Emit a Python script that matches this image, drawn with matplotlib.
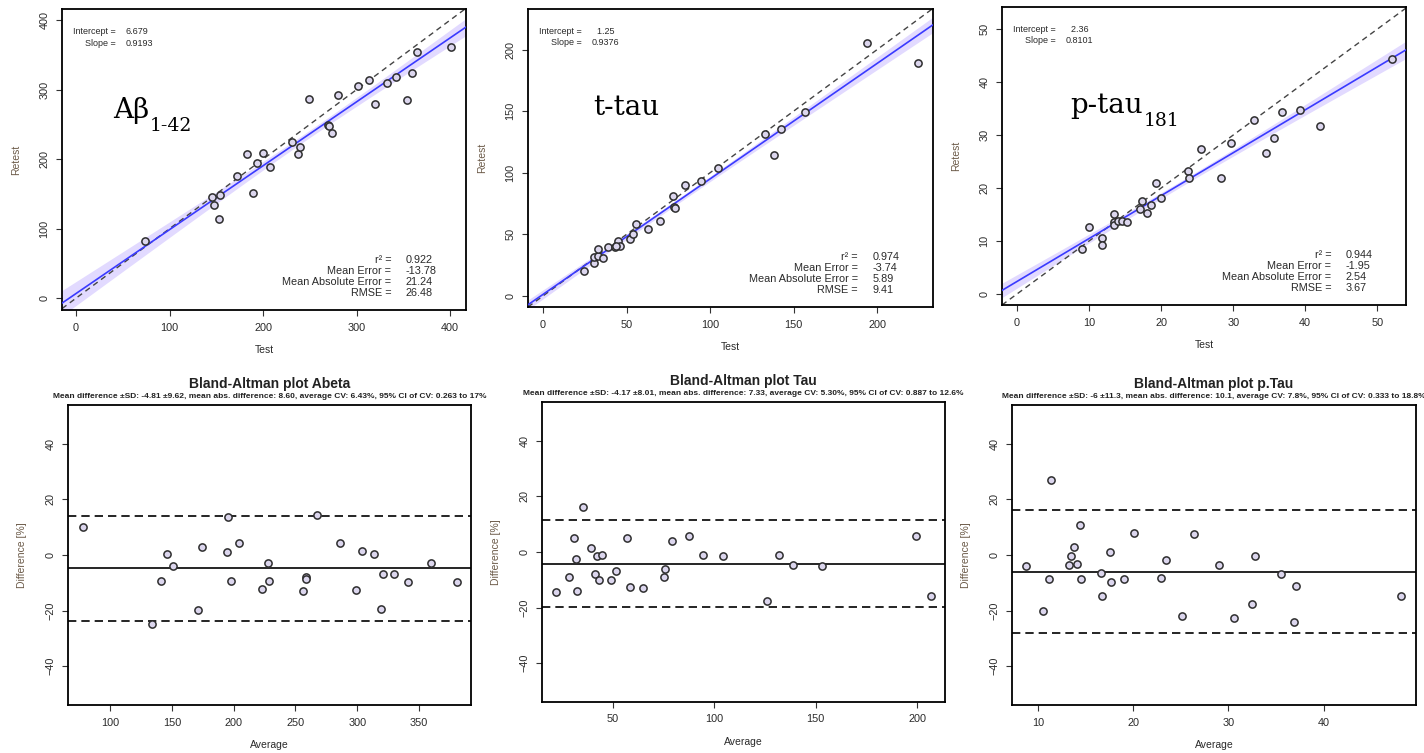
import numpy as np
import matplotlib.pyplot as plt

plt.rcParams['font.family'] = ['Liberation Sans', 'DejaVu Sans']

# ---- data ----
# test / retest scatter
abeta_test = [73.5, 145, 154, 148, 153, 172, 183, 193, 200, 189, 207, 231, 237, 240,
              249, 269, 271, 274, 280, 302, 313, 320, 332, 342, 354, 359, 365, 401]
abeta_retest = [82, 146, 148, 134, 114, 176, 208, 195, 209, 152, 188, 225, 208, 217,
                286, 249, 247, 238, 292, 305, 314, 279, 310, 318, 285, 324, 354, 361]

ttau_test = [24.4, 30.5, 30.5, 33.1, 32.7, 35.9, 39.1, 42.9, 44.7, 45.9, 43.9, 51.9, 53.9, 55.9,
             63.1, 69.9, 77.8, 78.4, 79.2, 85.2, 94.8, 105, 132.9, 142.3, 138.5, 157.1, 193.8, 224.4]
ttau_retest = [20.6, 27.1, 32, 32.5, 37.9, 30.4, 39.6, 40.1, 44.4, 40.9, 40.6, 46.6, 50.4, 58.5,
               54.7, 60.7, 80.8, 72.6, 71.5, 90, 93.5, 103.5, 131.2, 135.5, 114.1, 149.6, 205.7, 189.4]

ptau_test = [9.0, 10.0, 11.8, 11.8, 13.5, 13.5, 13.5, 14.0, 14.5, 15.2, 17.1, 17.4, 18.1, 18.6,
             19.3, 20.0, 23.7, 23.9, 25.5, 28.3, 29.7, 32.9, 34.6, 35.7, 36.8, 39.3, 42.0, 52.1]
ptau_retest = [8.5, 12.6, 10.6, 9.2, 15.0, 13.5, 13.0, 13.8, 13.8, 13.6, 16.0, 17.5, 15.3, 16.7,
               20.9, 18.2, 23.2, 21.8, 27.4, 21.9, 28.5, 32.8, 26.6, 29.4, 34.3, 34.8, 31.8, 44.3]

fit_intercept = [6.679, 1.25, 2.36]
fit_slope = [0.9193, 0.9376, 0.8101]
r2 = ["0.922", "0.974", "0.944"]
mean_err = ["-13.78", "-3.74", "-1.95"]
mean_abs_err = ["21.24", "5.89", "2.54"]
rmse = ["26.48", "9.41", "3.67"]
intercept_txt = ["6.679", "  1.25", "  2.36"]
slope_txt = ["0.9193", "0.9376", "0.8101"]

# Bland-Altman
ba_abeta_avg = [77.9, 134.2, 141.2, 146.3, 151.1, 170.8, 174.6, 194.3, 195.6, 197.5, 204.5, 222.8,
                228.0, 228.4, 255.7, 258.4, 258.4, 267.5, 286.4, 299.3, 303.9, 313.9, 319.5, 320.9,
                329.8, 340.8, 359.7, 380.5]
ba_abeta_diff = [10.2, -25.0, -9.5, 0.4, -4.0, -19.8, 2.8, 1.1, 13.8, -9.5, 4.4, -12.3,
                 -2.8, -9.5, -12.9, -7.8, -8.8, 14.5, 4.4, -12.6, 1.3, 0.4, -19.6, -6.7,
                 -6.8, -9.6, -2.8, -9.7]

ba_tau_avg = [21.8, 28.1, 30.7, 32.0, 32.4, 35.2, 39.2, 41.1, 42.0, 43.2, 44.7, 48.8, 51.3, 56.9,
              58.4, 64.8, 75.2, 75.6, 79.0, 87.3, 94.3, 104.2, 126.1, 132.1, 138.7, 153.2, 199.7, 206.9]
ba_tau_diff = [-14.3, -9.0, 5.2, -2.5, -14.1, 16.1, 1.6, -8.0, -1.6, -10.0, -1.0, -10.2, -6.7, 5.2,
               -12.6, -12.9, -9.0, -6.0, 3.8, 5.6, -1.0, -1.3, -17.8, -1.2, -4.7, -4.9, 5.6, -16.0]

ba_ptau_avg = [8.8, 11.4, 11.2, 10.6, 13.3, 13.5, 13.8, 14.1, 14.4, 14.5, 16.6, 16.7, 17.6, 17.7,
               19.1, 20.1, 22.9, 23.5, 25.1, 26.4, 29.0, 30.6, 32.5, 32.8, 35.5, 36.9, 37.1, 48.1]
ba_ptau_diff = [-4.1, 27.1, -8.8, -20.1, -3.6, -0.4, 2.9, -3.2, 10.9, -8.8, -6.4, -14.8, 1.0, -9.7,
                -8.8, 8.0, -8.1, -1.9, -22.0, 7.5, -3.7, -22.7, -17.6, -0.5, -6.8, -24.1, -11.1, -14.6]

ba_mean = [-4.81, -4.17, -6.0]
ba_sd = [9.62, 8.01, 11.3]
ba_titles = ["Bland-Altman plot Abeta", "Bland-Altman plot Tau", "Bland-Altman plot p.Tau"]
ba_subtitles = [
    "Mean difference \u00b1SD: -4.81 \u00b19.62, mean abs. difference: 8.60, average CV: 6.43%, 95% CI of CV: 0.263 to 17%",
    "Mean difference \u00b1SD: -4.17 \u00b18.01, mean abs. difference: 7.33, average CV: 5.30%, 95% CI of CV: 0.887 to 12.6%",
    "Mean difference \u00b1SD: -6 \u00b111.3, mean abs. difference: 10.1, average CV: 7.8%, 95% CI of CV: 0.333 to 18.8%",
]

labels_main = ["A\u03b2", "t-tau", "p-tau"]
labels_sub = ["1-42", "", "181"]

W, H = 1424, 753
fig = plt.figure(figsize=(W / 100, H / 100), dpi=100)
fig.set_facecolor("white")


def px_axes(l, t, r, b):
    return fig.add_axes([l / W, 1 - b / H, (r - l) / W, (b - t) / H])


TXT = "#2a2a2a"
YLAB = "#6b5a48"
PT = dict(marker="o", ms=5.2, mfc="#dcd6ee", mec="#2e2e2e", mew=1.1, ls="none", zorder=5)


def style(ax, xt, yt):
    ax.set_xticks(xt)
    ax.set_yticks(yt)
    ax.tick_params(direction="out", length=4, width=0.8, labelsize=7.8,
                   colors="#333333", labelcolor=TXT, pad=5)
    ax.tick_params(axis="y", labelrotation=90)
    for lab in ax.get_yticklabels():
        lab.set_va("center")
    for s in ax.spines.values():
        s.set_linewidth(1.3)


# ---- top row: test-retest ----
top_boxes = [(62, 9, 466, 310), (528, 9, 933, 307), (1002, 7, 1406, 305)]
top_lims = [((-15, 417), (-17, 416)), ((-9, 233.5), (-9, 233)), ((-2.1, 54), (-2.1, 54.2))]
top_ticks = [(range(0, 401, 100), range(0, 401, 100)),
             (range(0, 201, 50), range(0, 201, 50)),
             (range(0, 51, 10), range(0, 51, 10))]
top_data = [(abeta_test, abeta_retest), (ttau_test, ttau_retest), (ptau_test, ptau_retest)]
label_pos = [(0.126, 0.638), (0.16, 0.645), (0.17, 0.645)]

for i in range(3):
    ax = px_axes(*top_boxes[i])
    x = np.array(top_data[i][0])
    y = np.array(top_data[i][1])
    a, b = fit_intercept[i], fit_slope[i]
    xl, yl = top_lims[i]
    xx = np.linspace(xl[0], xl[1], 200)
    # confidence band of the fit
    n = len(x)
    res = y - (a + b * x)
    s = np.sqrt(np.sum(res ** 2) / (n - 2))
    se = s * np.sqrt(1 / n + (xx - x.mean()) ** 2 / np.sum((x - x.mean()) ** 2))
    yfit = a + b * xx
    ax.fill_between(xx, yfit - 1.3 * se, yfit + 1.3 * se, color="#e2daff", lw=0, zorder=1)
    ax.plot(xx, xx, color="#444444", ls=(0, (4, 3)), lw=1.0, zorder=2)
    ax.plot(xx, yfit, color="#3a3aff", lw=1.2, zorder=3)
    ax.plot(x, y, **PT)
    ax.set_xlim(xl)
    ax.set_ylim(yl)
    style(ax, top_ticks[i][0], top_ticks[i][1])
    ax.set_xlabel("Test", fontsize=7.5, color=TXT, labelpad=9)
    ax.set_ylabel("Retest", fontsize=7.5, color=YLAB, labelpad=13)

    ax.text(0.133, 0.94, "Intercept =\nSlope =", transform=ax.transAxes, ha="right", va="top",
            fontsize=6.5, color=TXT, linespacing=1.35)
    ax.text(0.158, 0.94, intercept_txt[i] + "\n" + slope_txt[i], transform=ax.transAxes,
            ha="left", va="top", fontsize=6.5, color=TXT, linespacing=1.35)
    ax.text(0.815, 0.04, "r\u00b2 =\nMean Error =\nMean Absolute Error =\nRMSE =",
            transform=ax.transAxes, ha="right", va="bottom", fontsize=7.8, color=TXT,
            linespacing=1.12)
    ax.text(0.85, 0.04, "%s\n%s\n%s\n%s" % (r2[i], mean_err[i], mean_abs_err[i], rmse[i]),
            transform=ax.transAxes, ha="left", va="bottom", fontsize=7.8, color=TXT,
            linespacing=1.12)

    main = ax.text(label_pos[i][0], label_pos[i][1], labels_main[i], transform=ax.transAxes,
                   fontsize=20, family="DejaVu Serif", color="black", va="baseline", ha="left")
    if labels_sub[i]:
        ax.annotate(labels_sub[i], xy=(1, 0), xycoords=main, xytext=(0.5, -5),
                    textcoords="offset points", fontsize=13.5, family="DejaVu Serif",
                    color="black", va="baseline", ha="left")

# ---- bottom row: Bland-Altman ----
bot_boxes = [(68, 405, 471, 705), (542, 402, 945, 702), (1012, 405, 1416, 705)]
bot_xlims = [(66, 392), (15, 213.8), (7.3, 49.7)]
bot_xticks = [range(100, 351, 50), range(50, 201, 50), range(10, 41, 10)]
bot_data = [(ba_abeta_avg, ba_abeta_diff), (ba_tau_avg, ba_tau_diff), (ba_ptau_avg, ba_ptau_diff)]

for i in range(3):
    ax = px_axes(*bot_boxes[i])
    m, sd = ba_mean[i], ba_sd[i]
    ax.axhline(m, color="black", lw=1.2, zorder=2)
    ax.axhline(m + 1.96 * sd, color="black", lw=1.2, ls=(0, (5, 3)), zorder=2)
    ax.axhline(m - 1.96 * sd, color="black", lw=1.2, ls=(0, (5, 3)), zorder=2)
    ax.plot(bot_data[i][0], bot_data[i][1], **PT)
    ax.set_xlim(bot_xlims[i])
    ax.set_ylim(-54, 54)
    style(ax, bot_xticks[i], range(-40, 41, 20))
    ax.set_xlabel("Average", fontsize=7.5, color=TXT, labelpad=9)
    ax.set_ylabel("Difference [%]", fontsize=7.5, color=YLAB, labelpad=13)
    ax.text(0.5, 1.07, ba_titles[i], transform=ax.transAxes, ha="center", va="center",
            fontsize=10, fontweight="bold", color="#222222")
    ax.text(0.5, 1.027, ba_subtitles[i], transform=ax.transAxes, ha="center", va="center",
            fontsize=6.0, fontweight="bold", color="#222222")

fig.savefig("out.png", dpi=100)
